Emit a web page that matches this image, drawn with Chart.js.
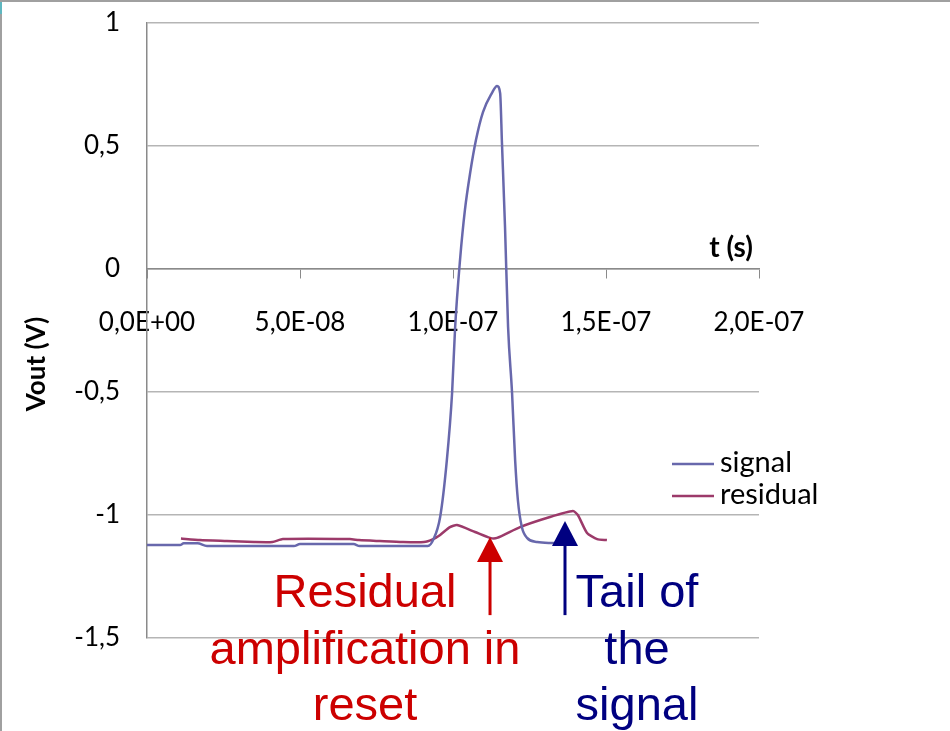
<!DOCTYPE html>
<html>
<head>
<meta charset="utf-8">
<script src="https://cdn.jsdelivr.net/npm/chart.js@4.4.1/dist/chart.umd.min.js"></script>
<style>
  html, body { margin: 0; padding: 0; background: #fff; }
  #wrap { width: 950px; height: 731px; }
</style>
</head>
<body>
<div id="wrap"><canvas id="chart" width="950" height="731"></canvas></div>
<script>
// time in ns, Vout in V
const signalTimeNs = [0, 10.8, 12.0, 16.5, 19.6, 48.0, 50.0, 67.5, 69.5, 91.8, 93.5, 95.8, 98.0, 99.7, 100.7, 102.3, 103.9, 105.6, 107.5, 109.8, 112.7, 114.4, 115.4, 116.0, 117.0, 118.0, 119.3, 120.3, 121.2, 122.5, 124.2, 127.5, 132.7, 138.2];
const signalVout = [-1.122, -1.122, -1.115, -1.115, -1.126, -1.126, -1.118, -1.118, -1.126, -1.126, -1.102, -1.008, -0.776, -0.504, -0.236, 0.037, 0.240, 0.390, 0.524, 0.638, 0.715, 0.744, 0.715, 0.512, 0.171, -0.236, -0.504, -0.776, -0.939, -1.049, -1.093, -1.110, -1.114, -1.118];

const residualTimeNs = [11.1, 17.3, 26.1, 35.0, 41.0, 44.4, 66.3, 69.3, 76.1, 83.5, 90.5, 93.5, 95.8, 99.0, 101.3, 107.2, 112.1, 114.4, 121.9, 131.7, 139.2, 140.8, 143.8, 147.1, 150.3];
const residualVout = [-1.096, -1.102, -1.106, -1.110, -1.110, -1.098, -1.098, -1.102, -1.106, -1.110, -1.110, -1.098, -1.081, -1.049, -1.041, -1.069, -1.093, -1.093, -1.049, -1.008, -0.984, -1.000, -1.073, -1.098, -1.102];

const seriesNames = ['signal', 'residual'];
const seriesColors = ['#6868AC', '#9C3A6A'];

const xTickLabels = ['0,0E+00', '5,0E-08', '1,0E-07', '1,5E-07', '2,0E-07'];
const yTickValues = [-1.5, -1, -0.5, 0, 0.5, 1];
const yTickLabels = ['-1,5', '-1', '-0,5', '0', '0,5', '1'];

// annotation arrows: time (ns), tip and tail Vout
const arrowTimeNs = [112.1, 136.6];
const arrowTipVout = [-1.089, -1.024];
const arrowTailVout = -1.407;
const arrowColors = ['#CC0000', '#000080'];
const noteLines = [
    ['Residual', 'amplification in', 'reset'],
    ['Tail of', 'the', 'signal']
];

const toPoints = (ts, vs) => ts.map((t, i) => ({ x: t, y: vs[i] }));

const extras = {
    id: 'extras',
    afterDraw(chart) {
        const { ctx } = chart;
        const xs = chart.scales.x;
        const ys = chart.scales.y;
        ctx.save();

        // outer frame bits
        ctx.strokeStyle = '#a0a0a0';
        ctx.lineWidth = 2;
        ctx.beginPath();
        ctx.moveTo(0, 1); ctx.lineTo(950, 1);
        ctx.moveTo(1, 0); ctx.lineTo(1, 731);
        ctx.stroke();
        ctx.fillStyle = '#5fb7c0';
        ctx.fillRect(0, 2, 2, 12);

        // axis titles
        ctx.fillStyle = '#000';
        ctx.font = 'bold 28px Lato';
        ctx.textAlign = 'right';
        ctx.textBaseline = 'middle';
        ctx.fillText('t (s)', xs.right - 6, ys.getPixelForValue(0) - 21);
        ctx.font = 'bold 26px Lato';
        ctx.save();
        ctx.translate(37, 364);
        ctx.rotate(-Math.PI / 2);
        ctx.textAlign = 'center';
        ctx.fillText('Vout (V)', 0, 0);
        ctx.restore();

        // legend
        ctx.textAlign = 'left';
        ctx.font = '29px Lato';
        seriesNames.forEach((name, i) => {
            const ly = 464 + i * 32;
            ctx.strokeStyle = seriesColors[i];
            ctx.lineWidth = 2.5;
            ctx.beginPath();
            ctx.moveTo(672, ly); ctx.lineTo(714, ly);
            ctx.stroke();
            ctx.fillStyle = '#000';
            ctx.fillText(name, 720, ly - 1);
        });

        // arrows + notes
        arrowTimeNs.forEach((t, i) => {
            const ax = xs.getPixelForValue(t);
            const tip = ys.getPixelForValue(arrowTipVout[i]);
            const tail = ys.getPixelForValue(arrowTailVout);
            ctx.fillStyle = arrowColors[i];
            ctx.strokeStyle = arrowColors[i];
            ctx.beginPath();
            ctx.moveTo(ax, tip);
            ctx.lineTo(ax - 13, tip + 25);
            ctx.lineTo(ax + 13, tip + 25);
            ctx.closePath();
            ctx.fill();
            ctx.lineWidth = 3;
            ctx.beginPath();
            ctx.moveTo(ax, tip + 24);
            ctx.lineTo(ax, tail);
            ctx.stroke();
        });

        ctx.font = '47px "Liberation Sans"';
        ctx.textAlign = 'center';
        ctx.textBaseline = 'alphabetic';
        const noteX = [365, 637];
        const baselines = [607, 664, 720];
        noteLines.forEach((lines, i) => {
            ctx.fillStyle = arrowColors[i];
            lines.forEach((s, j) => ctx.fillText(s, noteX[i], baselines[j]));
        });
        ctx.restore();
    }
};

new Chart(document.getElementById('chart'), {
    type: 'scatter',
    data: {
        datasets: [
            {
                label: seriesNames[0],
                data: toPoints(signalTimeNs, signalVout),
                showLine: true,
                borderColor: seriesColors[0],
                borderWidth: 2.5,
                pointRadius: 0,
                cubicInterpolationMode: 'monotone'
            },
            {
                label: seriesNames[1],
                data: toPoints(residualTimeNs, residualVout),
                showLine: true,
                borderColor: seriesColors[1],
                borderWidth: 2.5,
                pointRadius: 0,
                tension: 0.2
            }
        ]
    },
    options: {
        responsive: false,
        animation: false,
        layout: { padding: { left: 0, top: 23, right: 191, bottom: 93 } },
        plugins: { legend: { display: false }, tooltip: { enabled: false } },
        scales: {
            x: {
                type: 'linear',
                axis: 'x',
                position: { y: 0 },
                min: 0,
                max: 200,
                afterFit: scale => { scale.paddingTop = 0; scale.paddingBottom = 0; },
                grid: { drawOnChartArea: false, drawTicks: true, tickLength: 9, color: '#8a8a8a' },
                border: { display: true, color: '#8a8a8a', width: 1.5 },
                ticks: {
                    stepSize: 50,
                    padding: 29,
                    color: '#000',
                    font: { family: 'Lato', size: 26 },
                    maxRotation: 0,
                    callback: (v, i) => xTickLabels[i]
                }
            },
            y: {
                type: 'linear',
                position: 'left',
                min: -1.5,
                max: 1,
                afterFit: scale => { scale.width = 147; scale.paddingTop = 0; scale.paddingBottom = 0; },
                grid: { color: '#b5b5b5', drawTicks: false, lineWidth: 1.5 },
                border: { display: true, color: '#8a8a8a', width: 1.5 },
                ticks: {
                    stepSize: 0.5,
                    padding: 27,
                    color: '#000',
                    font: { family: 'Lato', size: 26 },
                    callback: v => {
                        const k = yTickValues.findIndex(t => Math.abs(t - v) < 1e-9);
                        return k >= 0 ? yTickLabels[k] : '';
                    }
                }
            }
        }
    },
    plugins: [extras]
});
</script>
</body>
</html>
